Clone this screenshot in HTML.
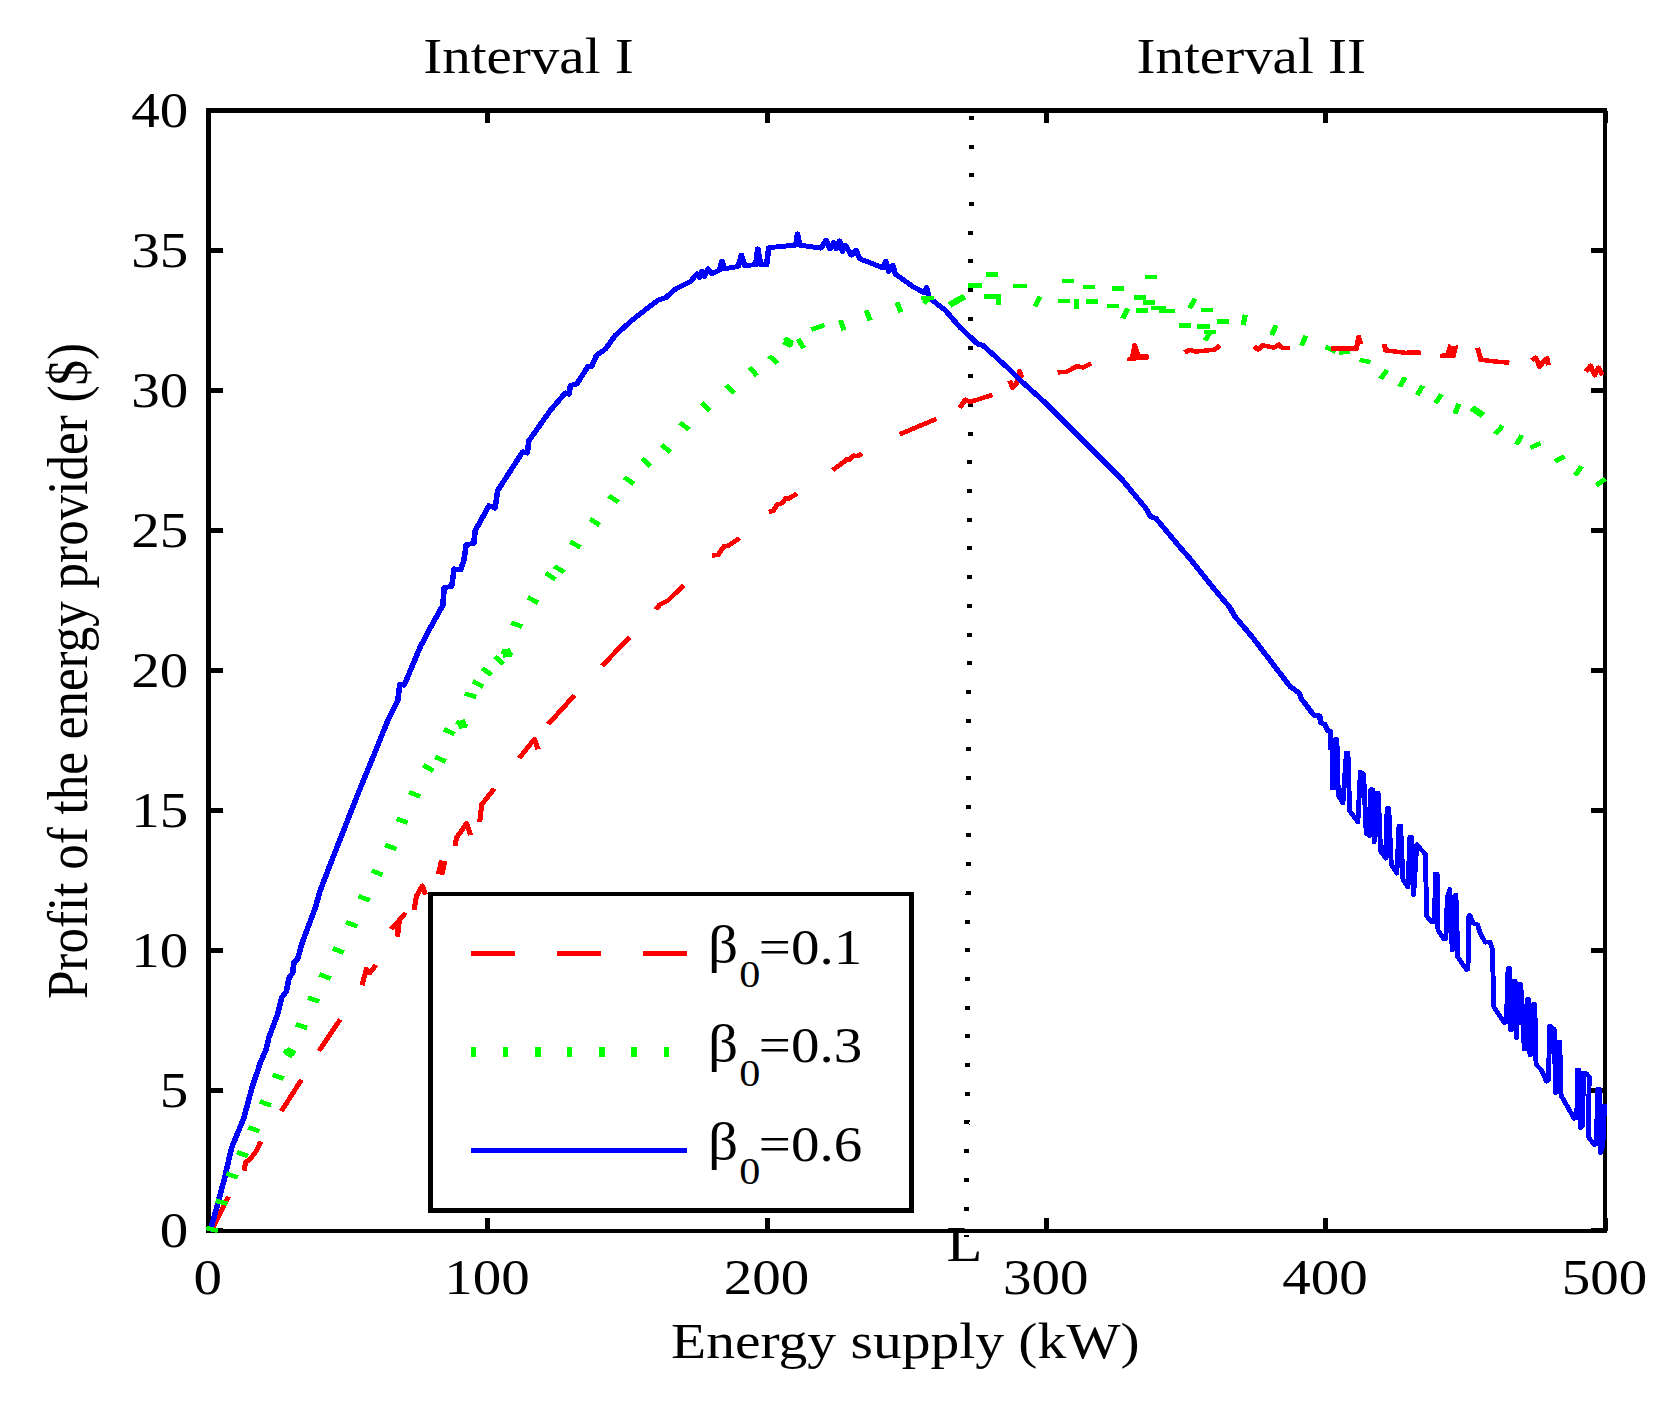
<!DOCTYPE html>
<html lang="en"><head><meta charset="utf-8"><title>Profit of the energy provider</title>
<style>html,body{margin:0;padding:0;background:#fff}svg{display:block}text{font-family:"Liberation Serif","Times New Roman",serif;fill:#000}.t{font-size:50px}.s{font-size:37px}.b{font-size:52px}.l{font-size:51.5px}</style></head><body>
<svg width="1676" height="1401" viewBox="0 0 1676 1401">
<rect width="1676" height="1401" fill="#fff"/>
<g transform="scale(1.14,1)" shape-rendering="crispEdges">
<path d="M180.7 110.6H1409.9" fill="none" stroke="#000" stroke-width="4.9"/>
<path d="M180.7 1230.7H1409.9" fill="none" stroke="#000" stroke-width="4"/>
<path d="M182.9 110.6V1230.7" fill="none" stroke="#000" stroke-width="4.4"/>
<path d="M1408 110.6V1230.7" fill="none" stroke="#000" stroke-width="3.7"/>
<path d="M182.9 1230.7v-12.5M182.9 110.6v12.5M427.9 1230.7v-12.5M427.9 110.6v12.5M673 1230.7v-12.5M673 110.6v12.5M918 1230.7v-12.5M918 110.6v12.5M1163 1230.7v-12.5M1163 110.6v12.5M1408.1 1230.7v-12.5M1408.1 110.6v12.5" fill="none" stroke="#000" stroke-width="4.1"/>
<path d="M182.9 1230.7h12.5M1408.1 1230.7h-12.5M182.9 1090.7h12.5M1408.1 1090.7h-12.5M182.9 950.7h12.5M1408.1 950.7h-12.5M182.9 810.7h12.5M1408.1 810.7h-12.5M182.9 670.6h12.5M1408.1 670.6h-12.5M182.9 530.6h12.5M1408.1 530.6h-12.5M182.9 390.6h12.5M1408.1 390.6h-12.5M182.9 250.6h12.5M1408.1 250.6h-12.5M182.9 110.6h12.5M1408.1 110.6h-12.5" fill="none" stroke="#000" stroke-width="4.7"/>
<path d="M852.2 116L847.8 1237.2" fill="none" stroke="#000" stroke-width="4.4" stroke-dasharray="4.0 24.7"/>
<path d="M186.1 1228.9 L200.5 1196.6M214.2 1170.6 L215.4 1162.1 L219.1 1159.7 L225.4 1150 L228.7 1141.5M246.8 1111.2 L264.5 1079.6M279.7 1051 L298.5 1019.4M317.6 985.4 L321.3 969.2 L324.5 972.8 L329.8 965M343.2 929.1 L348.7 922.5 L348.8 935.2 L350.4 919.8 L355.9 912.7M363.2 910.1 L365.4 895.8 L370.5 885.8 L373.2 894.6M399.5 845.7 L400.2 838.2 L409.4 823.2 L412.7 835.2M420.8 821.9 L422.6 804.4 L433.6 788.6M455.5 758 L468.8 739.2 L472 749.2M480.9 724.2 L503.9 695.3M528.2 665.8 L552.3 637.2M575.4 609.4 L578.7 604.6 L586.4 600.1 L599.6 585.1M624.5 555.8 L630 554.6 L635.5 545.8 L638.8 545.8 L648.7 538.3M674.4 512 L678.3 510.7 L681.7 504.5 L686.1 503.2 L689.4 498.2 L691.6 498.7 L699.2 493.7M730.3 470.2 L740.2 461.9 L742.4 459.4 L745.7 459.4 L748.9 455.6 L752.3 456.1 L756.2 453.6M789.2 434.3 L821.5 418.8M841.9 408 L846.8 399.7 L851.2 401.8 L870.5 395M885.7 380.5 L888.2 388 L891.8 383 L894.5 371.2 L896.3 377.9M927.7 372.4 L935.9 371.7 L944.6 366.2 L950.2 367.4 L957.2 363.4M1039.2 352.4 L1043.6 349.9 L1049 351.6 L1065.5 349.6 L1070.4 345.4M1099.9 346.5 L1103.6 349.5 L1107.6 345.2 L1117.5 347.7 L1121.8 344.7 L1125.2 348.2 L1131.3 348.2M1214.2 344 L1215.4 350.3 L1232.9 352.8 L1246.1 352.3M1296.2 347.7 L1298.9 359.8 L1312 361.5 L1324.1 362.8M1343.9 360.3 L1347.2 357.8 L1350.5 366.5 L1354.9 360.3 L1357.1 358.3 L1358.2 365.3M1391.2 371.6 L1395.2 365.8 L1398.9 375.3 L1402.2 367.8 L1405.5 375.3" fill="none" stroke="#f00" stroke-width="4.5" stroke-linejoin="round"/>
<path d="M1263.7 354.8 L1269.2 353.5 L1271.2 344.9 L1273.6 347.7 L1278 346.2 L1276 356.8 L1264 356.8Z" fill="#f00" stroke="#f00" stroke-width="2" stroke-linejoin="round"/>
<path d="M989.3 359.2 L992.2 356.9 L994.5 344.2 L996.1 344.2 L999.4 355.2 L1006.6 355.4 L1006.6 358.8 L989.5 360Z" fill="#f00" stroke="#f00" stroke-width="2" stroke-linejoin="round"/>
<path d="M386 874.5 L388.8 860.8" fill="none" stroke="#f00" stroke-width="7.5" stroke-linejoin="round"/>
<path d="M183.3 1230.5 L185 1228.9 L196.8 1179.1 L203.2 1147.6 L213.8 1118.4 L221.2 1086.9 L226.3 1069.9 L228.2 1062.9 L233.3 1049.9 L236 1036.9 L243 1016 L247.2 997.5 L251.3 991 L253.5 978 L256.7 973 L257.9 962 L261 959.5 L264.8 943.7 L276.4 908.4 L280.8 890.8 L291.8 858.2 L303.9 823.2 L316 788.1 L326.9 758 L340.2 720.4 L348.9 700.4 L350.7 684.1 L354.5 685.3 L368.8 646.5 L377.5 627.7 L388.5 605.1 L389.6 587.6 L396.2 586.3 L398.4 568.8 L403.9 570 L406.8 560.9 L409 544.6 L415.6 543.3 L416.8 530.8 L428.9 505.7 L434.3 508.2 L436.5 490.7 L458.5 451.8 L462.5 453.1 L464 440.6 L482.7 410.5 L495.9 392.9 L499.2 394.2 L500.3 385.4 L505.8 384.2 L515.7 366.6 L518.9 366.6 L523.3 355.3 L531.1 349.1 L539.8 335.3 L553.1 321.5 L568.4 307.7 L577.2 300.2 L583.9 297.7 L592.6 288.9 L605.8 281.4 L611.3 273.9 L613.5 277.6 L615.7 271.4 L617.9 276.4 L621.2 268.9 L624.5 273.9 L631.1 270.1 L633.3 261.4 L635.5 268.9 L647.5 266.4 L650.4 255.1 L653.1 265.6 L663 264.6 L664.7 248.8 L667.4 264.6 L672.5 264.6 L674.4 247.6 L698.2 245.1 L699.6 233.8 L701.4 245.1 L720.2 248.1 L724.8 240.1 L728.1 248.9 L731.4 242.6 L733.6 248.9 L736.4 240.9 L739.1 251.4 L741.3 245.1 L746.8 255.1 L750.7 250.1 L754.5 258.9 L774.3 267.7 L777.1 261.4 L779.7 271.4 L783.1 265.2 L785.3 273.9 L800.6 286.5 L810.5 292.7 L812.7 287.7 L814.9 297.7 L829.2 310.3 L842.5 327.8 L857.8 344.1 L862.2 345.4 L873.2 356.6 L886.4 370.4 L895.2 380.5 L917.2 403 L939.1 428.1 L961.1 453.1 L983.2 478.2 L1005.1 508.3 L1009.5 517 L1013.9 518.3 L1035.9 548.4 L1043.9 558.8 L1065.9 590.1 L1079 607.7 L1082.4 615.2 L1098.9 637.7 L1120.8 670.3 L1131.8 686.6 L1139.5 692.9 L1141.7 699.1 L1152.7 715.4 L1157.7 715.9 L1158.6 723 L1162.1 724.2 L1164.7 730.5 L1167 731.7 L1167 748" fill="none" stroke="#00f" stroke-width="4.9" stroke-linejoin="round"/>
<path d="M1167 731.7 L1167 748 L1168.8 740.5 L1168.8 788.1 L1170.3 788.1 L1171.3 739.2 L1172.7 739.2 L1174 795.6 L1178 803.2 L1181 753 L1182.4 753 L1183.9 810.7 L1191.1 822 L1193.3 771.8 L1196.2 774.3 L1198.4 833.2 L1201.1 835.7 L1202.5 789.4 L1203.9 789.4 L1205.4 842 L1207.6 793.1 L1209 793.1 L1211 850.8 L1215.4 858.3 L1216.8 808.2 L1218.2 808.2 L1220.4 864.6 L1225.3 873.3 L1227.2 825.7 L1228.6 825.7 L1230.7 879.6 L1235.1 887.1 L1236.7 837 L1238.1 837 L1240 895 L1242.8 844.5 L1250.5 854.5 L1251.3 915.9 L1255.8 922.3 L1258.3 922.3 L1259.2 873.7 L1260.6 873.7 L1261.4 930.2 L1266.4 938.8 L1268.3 938.8 L1269.6 897.3 L1271.7 889.4 L1273.9 950.3 L1275.2 897.3 L1277.1 895.1 L1278.9 957.4 L1286.5 969.6 L1287.7 969 L1288.4 917.3 L1289.3 915.2 L1292.2 923.1 L1296 924.5 L1298.4 933.1 L1302.9 942.4 L1307 941.7 L1309.1 948.8 L1310.4 1006.8 L1319.6 1022.8 L1321.4 1022 L1322.9 968.2 L1324.3 968.2 L1325.2 1030 L1327.3 1029.3 L1327.6 981 L1329 981 L1330.2 1037.8 L1332.6 984.3 L1334 984.3 L1337.1 1049.2 L1338.9 1048.5 L1339.5 999.3 L1340.9 999.3 L1342.1 1055 L1343.9 1053.5 L1344.9 1004.3 L1346.3 1004.3 L1347.4 1064.2 L1352.1 1069.9 L1356.5 1081.4 L1358.3 1080 L1359.4 1025.7 L1363.3 1029.3 L1364.6 1092.8 L1366.5 1092 L1366.8 1042.1 L1368.2 1042.1 L1369.4 1095.6 L1380.9 1118.5 L1383.2 1117.8 L1383.7 1069.9 L1385.1 1069.9 L1386.5 1127.8 L1388.2 1125.6 L1389 1072.8 L1391.6 1073.5 L1394 1077.1 L1393.4 1137 L1398.4 1144.9 L1400.3 1144.2 L1401.5 1089.2 L1402.9 1089.2 L1404 1152.7 L1406 1145.6 L1407.5 1104.2" fill="none" stroke="#00f" stroke-width="4.3" stroke-linejoin="round"/>
<path d="M849 285.2L861.3 285.2M865.2 274.7L875.8 274.7M863.5 296.5L874.1 296.5M876.1 294.4L876.1 305M888.3 286L900.6 286M931.6 281L942.2 281M928.4 301L939 301M944.6 298.7L944.6 309.3M949.9 287L960.5 287M952.5 301.5L963.1 301.5M975.6 288.2L986.2 288.2M970.8 305.8L981.4 305.8M1004.2 276.9L1014.8 276.9M994.3 297.7L1004.9 297.7M996.1 310.3L1006.7 310.3M1002.4 302.2L1013 302.2M1009.5 307.8L1022.6 307.8M1016.4 311L1030.4 311M1053.6 309.8L1064.2 309.8M1067.5 321.6L1078.1 321.6M1033.9 325.3L1044.5 325.3M1050.4 326.6L1061 326.6M1056.5 332L1067.1 332M807.6 297.8L819 297.8M181 1227.9L191.1 1230.9M189.2 1200.6L199.3 1203.8M198.6 1173.6L208.5 1177.4M207.8 1152.1L217.6 1156.1M217.8 1127.4L227.6 1131.4M228 1101.4L237.8 1105.4M239.1 1074.7L248.9 1078.7M248.9 1050.4L258.7 1054.4M259.6 1024.2L269.4 1028.2M270.2 997.5L280 1001.5M280.2 974.4L289.9 978.6M291.9 948.3L301.6 952.7M303.6 922.2L313.4 926.4M314.4 896.2L324.2 900.4M326.1 870.6L335.7 875M337.9 845L347.7 849M347.8 818.7L357.6 822.7M358.8 792.2L368.5 796.4M371.3 765.1L380.2 770.9M381.6 756.8L391.1 761.6M389.4 729.2L398.7 734.2M400.3 721.8L409.7 726.6M407.7 693.5L417.7 697.1M414.8 681.3L423.8 686.7M422.9 668.2L431.2 674.8M434.2 656.6L441.8 664M439.7 651.1L449.4 655.3M448.5 622.6L458.2 626.8M463.1 597.3L472.1 602.9M478.8 573.1L487.3 579.5M486.3 566.3L495.1 572.3M500.2 541.7L509.1 547.5M517.6 518.9L526.1 525.1M534 495.9L542.6 502.1M547.8 477.4L556.1 484M563.2 458.6L570.7 466.2M580.4 445L588.2 452.2M596.3 422.6L604.4 429.4M615.5 402.8L622.6 410.6M637.1 385.1L643.9 393.3M657.5 367.4L664.1 375.8M674.7 355.8L682 363.4M688.7 337.7L694.5 346.5M700 339L705.1 348.2M737.4 320.2L740.3 330.4M759.7 310.3L763.3 320.3M786.9 302.3L790.2 312.3M1092.4 314.7L1090.4 325.2M1119.4 325.3L1115.5 335.1M1145.4 335.9L1141.7 345.8M1216.8 370L1211 378.9M1232.5 377.2L1227.8 386.7M1248.1 385.7L1243.1 395M1264.5 394.3L1259.2 403.4M1279.8 403.9L1276.1 413.9M1318 425.8L1311.5 434.1M1334.9 435.1L1330.3 444.6M1387.5 466.3L1381.7 475.3M907.8 306.4L912.3 296.6M985 318.4L989.2 308.4M1043.5 308.2L1048.4 298.6M1057.2 340.4L1062.1 330.8M1162.8 347.1L1171.7 351.5M1174.6 352.8L1184.2 351.2M1192.6 359.9L1202.1 362.1M1342.5 447.7L1351.4 443.3M1363.9 461.4L1372.5 456.4M1400.2 485.2L1408.2 479M711.6 329.7L723.2 325M810.5 303.2L814.6 299" fill="none" stroke="#0f0" stroke-width="4.6"/>
<path d="M832.9 305L846.1 296.5" fill="none" stroke="#0f0" stroke-width="6.2"/>
<path d="M250.9 1050.6L257.5 1054.6" fill="none" stroke="#0f0" stroke-width="8"/>
<path d="M401.6 725.6L408.8 722.6" fill="none" stroke="#0f0" stroke-width="8"/>
<path d="M440.9 653.6L448.2 652.4" fill="none" stroke="#0f0" stroke-width="8.5"/>
<path d="M688.2 340.5L694.7 344.5" fill="none" stroke="#0f0" stroke-width="8"/>
<path d="M1291.1 407.9L1301.1 415.4" fill="none" stroke="#0f0" stroke-width="6.5"/>
<path d="M1167.7 348.3 L1189.9 348.7 L1191.8 337 L1193.9 344.2" fill="none" stroke="#f00" stroke-width="4.5" stroke-linejoin="round"/>
<rect x="377.2" y="894" width="422.1" height="316.6" fill="#fff" stroke="#000" stroke-width="4.4"/>
<path d="M413 953.5H602.9" stroke="#f00" stroke-width="4.9" stroke-dasharray="38.9 36.7" fill="none"/>
<path d="M415.4 1046.7v10.7M443.5 1046.7v10.7M471.9 1046.7v10.7M499.7 1046.7v10.7M528.2 1046.7v10.7M556.1 1046.7v10.7M584.7 1046.7v10.7" stroke="#0f0" stroke-width="4.7" fill="none"/>
<path d="M413 1150.7H602.9" stroke="#00f" stroke-width="4.9" fill="none"/>
<text class="b" x="621.1" y="962.3">β</text>
<text class="s" x="648.5" y="987.3">0</text>
<text class="t" x="665.6" y="963.9">=0.1</text>
<text class="b" x="621.1" y="1060.8">β</text>
<text class="s" x="648.5" y="1085.8">0</text>
<text class="t" x="665.6" y="1062.4">=0.3</text>
<text class="b" x="621.1" y="1159.5">β</text>
<text class="s" x="648.5" y="1184.5">0</text>
<text class="t" x="665.6" y="1161.1">=0.6</text>
<text class="t" text-anchor="middle" x="463.6" y="72.8">Interval I</text>
<text class="t" text-anchor="middle" x="1097.6" y="73">Interval II</text>
<text class="t" text-anchor="end" x="165.1" y="1247.3">0</text>
<text class="t" text-anchor="end" x="165.1" y="1107.3">5</text>
<text class="t" text-anchor="end" x="165.1" y="967.3">10</text>
<text class="t" text-anchor="end" x="165.1" y="827.3">15</text>
<text class="t" text-anchor="end" x="165.1" y="687.2">20</text>
<text class="t" text-anchor="end" x="165.1" y="547.2">25</text>
<text class="t" text-anchor="end" x="165.1" y="407.2">30</text>
<text class="t" text-anchor="end" x="165.1" y="267.2">35</text>
<text class="t" text-anchor="end" x="165.1" y="127.2">40</text>
<text class="t" text-anchor="middle" x="182.3" y="1294.3">0</text>
<text class="t" text-anchor="middle" x="427.3" y="1294.3">100</text>
<text class="t" text-anchor="middle" x="672.4" y="1294.3">200</text>
<text class="t" text-anchor="middle" x="917.4" y="1294.3">300</text>
<text class="t" text-anchor="middle" x="1162.4" y="1294.3">400</text>
<text class="t" text-anchor="middle" x="1407.5" y="1294.3">500</text>
<text class="l" text-anchor="middle" x="846.1" y="1261">L</text>
<text class="t" text-anchor="middle" transform="translate(794.2,1357.8) scale(1.0096,1)">Energy supply (kW)</text>
<text class="t" text-anchor="middle" transform="translate(76,671) rotate(-90) scale(1.0223,1)">Profit of the energy provider ($)</text>
</g></svg></body></html>
